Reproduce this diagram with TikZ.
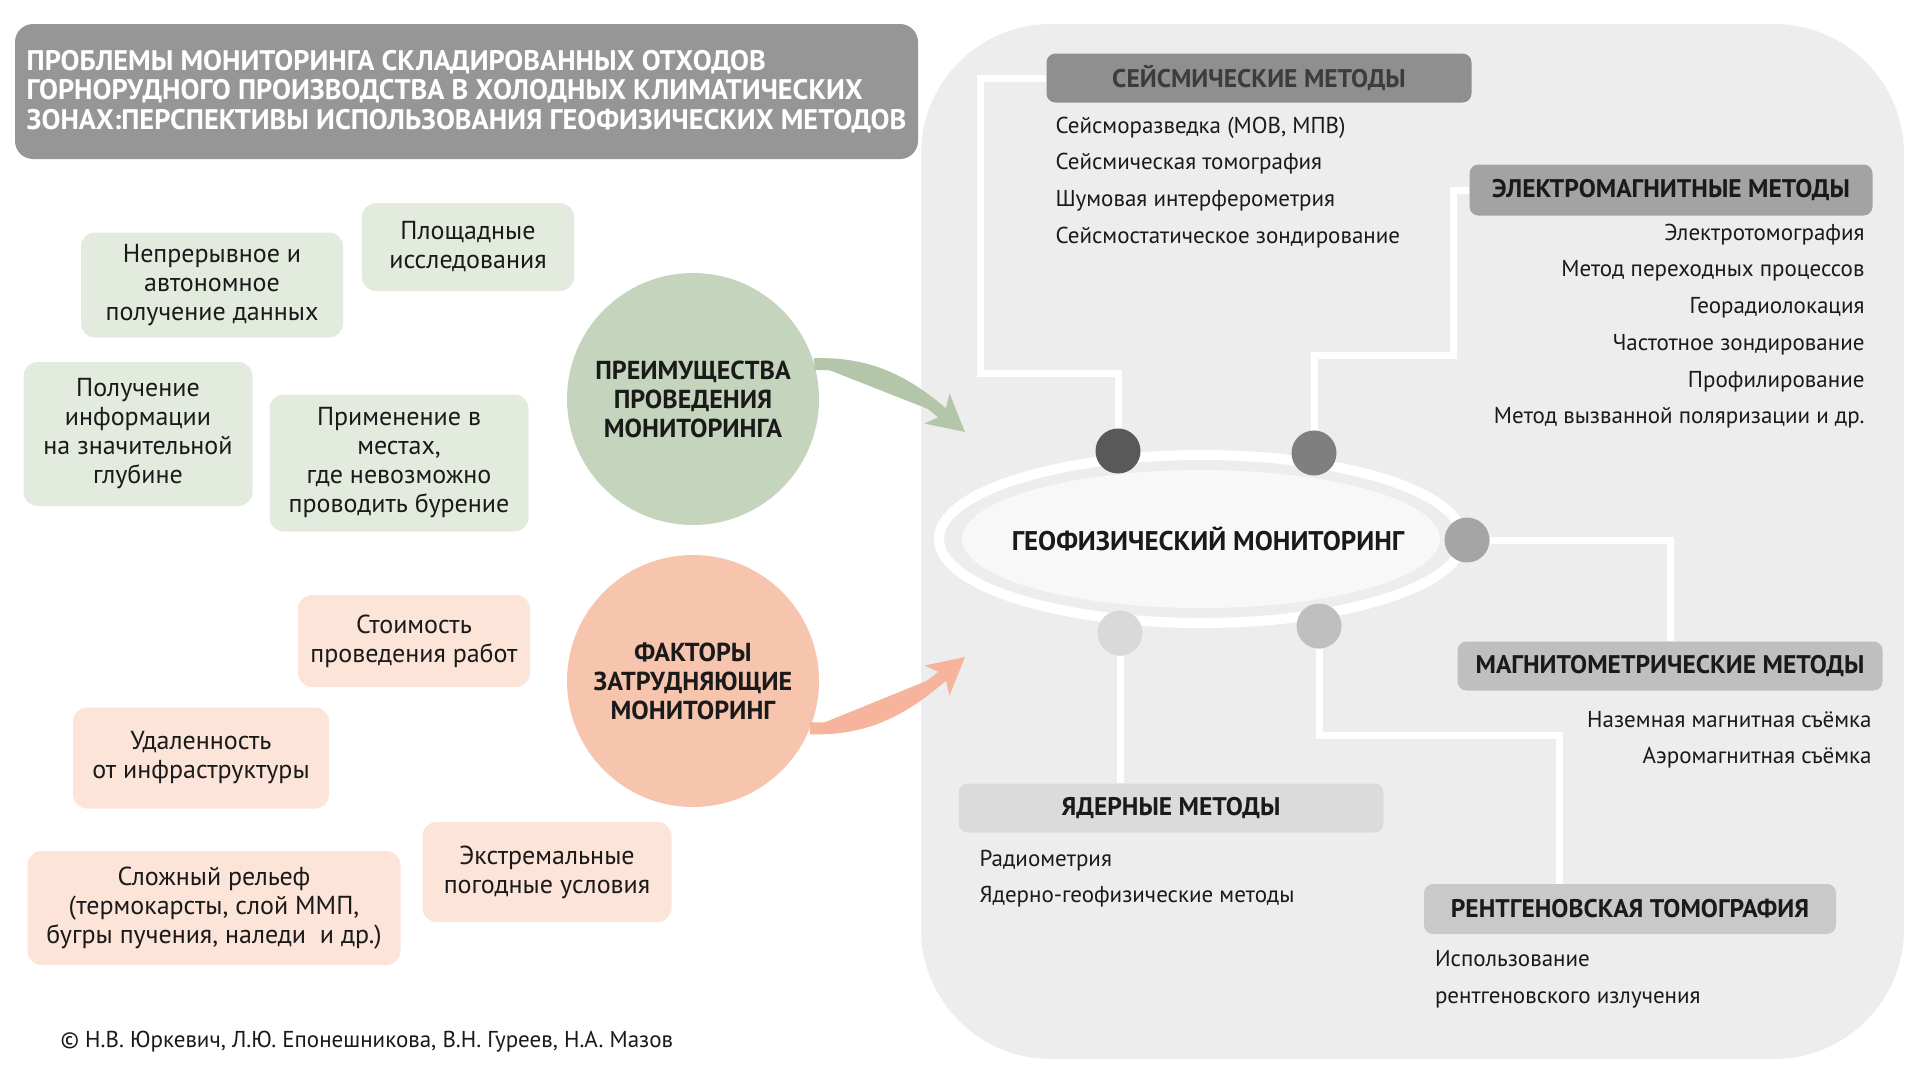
\documentclass[tikz,border=0pt]{standalone}
\usepackage{fontspec}
\setmainfont{PT Sans}
\usetikzlibrary{arrows.meta,positioning,shapes.geometric,backgrounds}
\definecolor{Ink}{HTML}{1A1A1A}
\definecolor{TitleGray}{HTML}{969696}
\definecolor{GreenSoft}{HTML}{E3EBDF}
\definecolor{Sage}{HTML}{C5D5BD}
\definecolor{SageArrow}{HTML}{B3C6A9}
\definecolor{PinkSoft}{HTML}{FCE4D8}
\definecolor{Peach}{HTML}{F7C4AD}
\definecolor{PeachArrow}{HTML}{F5B49B}
\definecolor{Panel}{HTML}{EDEDED}
\definecolor{Core}{HTML}{F8F8F8}
\definecolor{Seis}{HTML}{8F8F8F}
\definecolor{SeisInk}{HTML}{3C3C3C}
\definecolor{Elec}{HTML}{A3A3A3}
\definecolor{Magn}{HTML}{BFBFBF}
\definecolor{Nucl}{HTML}{DBDBDB}
\definecolor{Xray}{HTML}{C9C9C9}
\definecolor{DotA}{HTML}{595959}
\definecolor{DotB}{HTML}{7F7F7F}
\definecolor{DotC}{HTML}{A5A5A5}
\definecolor{DotD}{HTML}{D9D9D9}
\definecolor{DotE}{HTML}{BFBFBF}
\tikzset{
  card/.style={rounded corners=14pt,align=center,text=Ink,font=\fontsize{26}{29}\selectfont,inner sep=4pt},
  cardgreen/.style={card,fill=GreenSoft},
  cardpink/.style={card,fill=PinkSoft},
  hub/.style={circle,minimum size=252pt,inner sep=0pt,align=center,text=Ink,font=\bfseries\fontsize{26}{29}\selectfont},
  titlebox/.style={fill=TitleGray,rounded corners=18pt,minimum width=903pt,minimum height=135pt,inner xsep=4pt,align=left,text=white,font=\bfseries\fontsize{28.3}{29.5}\selectfont},
  head/.style={rounded corners=9pt,minimum height=49pt,text=Ink,font=\bfseries\fontsize{25.5}{28}\selectfont},
  items/.style={inner sep=0pt,text=Ink,font=\fontsize{23}{36.7}\selectfont},
  dot/.style={circle,minimum size=45pt,inner sep=0pt},
  wire/.style={draw=white,line width=7pt},
  bigArrow/.style={-{Stealth[length=36pt,width=38pt,inset=9pt]},line width=12pt}
}
\begin{document}
\begin{tikzpicture}[x=1pt,y=-1pt]
\useasboundingbox (0,0) rectangle (1920,1080);
% title
\node[titlebox] (title) at (466.5,91.5) {ПРОБЛЕМЫ МОНИТОРИНГА СКЛАДИРОВАННЫХ ОТХОДОВ\\ГОРНОРУДНОГО ПРОИЗВОДСТВА В ХОЛОДНЫХ КЛИМАТИЧЕСКИХ\\ЗОНАХ:ПЕРСПЕКТИВЫ ИСПОЛЬЗОВАНИЯ ГЕОФИЗИЧЕСКИХ МЕТОДОВ};
% advantages
\node[cardgreen,minimum width=262pt,minimum height=105pt] (adv1) at (212,285) {Непрерывное и\\автономное\\получение данных};
\node[cardgreen,minimum width=212pt,minimum height=88pt] (adv2) at (468,247) {Площадные\\исследования};
\node[cardgreen,minimum width=229pt,minimum height=144pt] (adv3) at (138,434) {Получение\\информации\\на значительной\\глубине};
\node[cardgreen,minimum width=259pt,minimum height=137pt] (adv4) at (399,463) {Применение в\\местах,\\где невозможно\\проводить бурение};
\node[hub,fill=Sage] (adv) at (693,399) {ПРЕИМУЩЕСТВА\\ПРОВЕДЕНИЯ\\МОНИТОРИНГА};
% obstacles
\node[cardpink,minimum width=232pt,minimum height=92pt] (obs1) at (414,641) {Стоимость\\проведения работ};
\node[cardpink,minimum width=256pt,minimum height=101pt] (obs2) at (201,758) {Удаленность\\от инфраструктуры};
\node[cardpink,minimum width=373pt,minimum height=114pt] (obs3) at (214,908) {Сложный рельеф\\(термокарсты, слой ММП,\\бугры пучения, наледи\ \ и др.)};
\node[cardpink,minimum width=249pt,minimum height=100pt] (obs4) at (547,872) {Экстремальные\\погодные условия};
\node[hub,fill=Peach] (obs) at (693,681) {ФАКТОРЫ\\ЗАТРУДНЯЮЩИЕ\\МОНИТОРИНГ};
\coordinate (advTip) at (965,432);
\coordinate (obsTip) at (965,657);
\draw[bigArrow,draw=SageArrow,fill=SageArrow] (adv.16) to[out=2,in=140] (advTip);
\draw[bigArrow,draw=PeachArrow,fill=PeachArrow] (obs.-22) to[out=-2,in=-140] (obsTip);
\node[anchor=west,text=Ink,font=\fontsize{23}{26}\selectfont] (credit) at (57,1042) {© Н.В. Юркевич, Л.Ю. Епонешникова, В.Н. Гуреев, Н.А. Мазов};
% monitoring core
\draw[white,line width=10pt] (1201,539) ellipse [x radius=262pt,y radius=84pt];
\fill[Core] (1201,539) ellipse [x radius=239pt,y radius=69pt];
\node[text=Ink,font=\bfseries\fontsize{27}{30}\selectfont] (geo) at (1208,539) {ГЕОФИЗИЧЕСКИЙ МОНИТОРИНГ};
\node[dot,fill=DotA] (dA) at (1118,451) {};
\node[dot,fill=DotB] (dB) at (1314,453) {};
\node[dot,fill=DotC] (dC) at (1467,540) {};
\node[dot,fill=DotD] (dD) at (1120,633) {};
\node[dot,fill=DotE] (dE) at (1319,626) {};
% method groups
\node[head,fill=Seis,text=SeisInk,minimum width=425pt] (seis) at (1259,78) {СЕЙСМИЧЕСКИЕ МЕТОДЫ};
\node[head,fill=Elec,minimum width=403pt,minimum height=51pt] (elec) at (1671,190) {ЭЛЕКТРОМАГНИТНЫЕ МЕТОДЫ};
\node[head,fill=Magn,minimum width=425pt] (magn) at (1670,666) {МАГНИТОМЕТРИЧЕСКИЕ МЕТОДЫ};
\node[head,fill=Nucl,minimum width=425pt] (nucl) at (1171,808) {ЯДЕРНЫЕ МЕТОДЫ};
\node[head,fill=Xray,minimum width=412pt,minimum height=50pt] (xray) at (1630,909) {РЕНТГЕНОВСКАЯ ТОМОГРАФИЯ};
\node[items,align=left,below=14pt of seis.south west,anchor=north west,xshift=9pt] (seisL) {Сейсморазведка (МОВ, МПВ)\\Сейсмическая томография\\Шумовая интерферометрия\\Сейсмостатическое зондирование};
\node[items,align=right,below=8pt of elec.south east,anchor=north east,xshift=-8pt] (elecL) {Электротомография\\Метод переходных процессов\\Георадиолокация\\Частотное зондирование\\Профилирование\\Метод вызванной поляризации и др.};
\node[items,align=right,below=20pt of magn.south east,anchor=north east,xshift=-11pt] (magnL) {Наземная магнитная съёмка\\Аэромагнитная съёмка};
\node[items,align=left,below=17pt of nucl.south west,anchor=north west,xshift=21pt] (nuclL) {Радиометрия\\Ядерно-геофизические методы};
\node[items,align=left,below=16pt of xray.south west,anchor=north west,xshift=11pt] (xrayL) {Использование\\рентгеновского излучения};
% panel and wires
\begin{scope}[on background layer]
\fill[Panel,rounded corners=130pt] (921,24) rectangle (1904,1059);
\draw[wire] (dA) |- (980,373) |- (seis.west);
\draw[wire] (dB) |- (1453,355) |- (elec.west);
\draw[wire] (dC) -| (magn.north);
\draw[wire] (dD) -- (nucl.north -| dD);
\draw[wire] (dE) |- (1559,735) |- ([xshift=-71pt]xray.north);
\end{scope}
\end{tikzpicture}
\end{document}
